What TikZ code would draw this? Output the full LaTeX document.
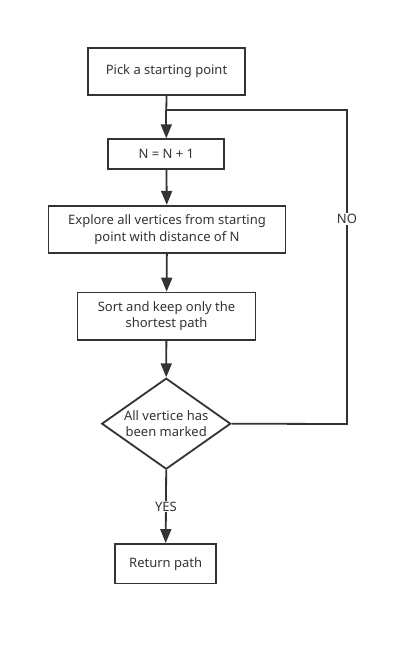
\documentclass[tikz,border=0pt]{standalone}
\usepackage{fontspec}
\setmainfont{Noto Sans}
\usetikzlibrary{shapes.geometric,arrows.meta}
\definecolor{ln}{HTML}{333333}
\begin{document}
\begin{tikzpicture}[x=1pt,y=-1pt,
  every node/.style={font=\fontsize{13}{16.5}\selectfont, text=ln},
  boxnode/.style={draw=ln, line width=1.8pt, inner sep=0pt, align=center},
  arr/.style={draw=ln, line width=1.8pt, -{Triangle[length=14pt,width=11pt]}},
  ln/.style={draw=ln, line width=1.8pt},
  lbl/.style={fill=white, inner sep=1pt}]
\useasboundingbox (0,0) rectangle (408,645);
\node[boxnode, minimum width=157pt, minimum height=47pt] (b1) at (166.5,71.5) {Pick a starting point};
\node[boxnode, minimum width=116pt, minimum height=30pt] (b2) at (166.3,154.2) {N = N + 1};
\node[boxnode, minimum width=237pt, minimum height=47.5pt] (b3) at (167,229.5) {Explore all vertices from starting\\point with distance of N};
\node[boxnode, minimum width=178pt, minimum height=47.5pt] (b4) at (166.5,316.3) {Sort and keep only the\\shortest path};
\node[draw=ln, line width=1.8pt, diamond, aspect=1.42, minimum width=129pt, minimum height=91pt, inner sep=0pt, align=center] (d) at (166.2,423.7) {All vertice has\\been marked};
\node[boxnode, minimum width=101pt, minimum height=39.5pt] (b5) at (165.7,563.7) {Return path};
\coordinate (j) at (166.3,110);
\coordinate (r1) at (347,424);
\coordinate (r2) at (347,110);
\draw[ln] (b1.south) -- (j);
\draw[arr] (j) -- (b2.north);
\draw[arr] (b2) -- (b3);
\draw[arr] (b3) -- (b4);
\draw[arr] (b4) -- (d.north);
\draw[arr] (d.south) -- node[lbl] (yes) {YES} (b5.north);
\draw[ln] (d.east) -- (r1) -- (r2) -- (j);
\node[lbl] (no) at (347,219) {NO};
\end{tikzpicture}
\end{document}
